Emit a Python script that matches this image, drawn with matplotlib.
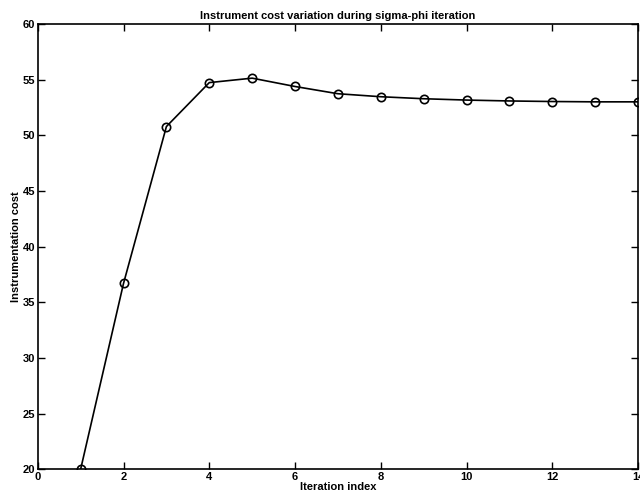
import matplotlib
matplotlib.use("Agg")
import matplotlib.pyplot as plt

# iteration index vs instrumentation cost
iterations = [1, 2, 3, 4, 5, 6, 7, 8, 9, 10, 11, 12, 13, 14]
cost = [20.0, 36.7, 50.8, 54.75, 55.15, 54.4, 53.75, 53.48, 53.3, 53.18,
        53.1, 53.05, 53.02, 53.02]

xticks = [0, 2, 4, 6, 8, 10, 12, 14]
yticks = [20, 25, 30, 35, 40, 45, 50, 55, 60]

plt.rcParams['font.family'] = ['Liberation Sans', 'DejaVu Sans']

fig = plt.figure(figsize=(6.4, 5.04), dpi=100)
ax = fig.add_axes([0.059, 0.069, 0.938, 0.883])

ax.plot(iterations, cost, color='black', linewidth=1.2, marker='o',
        markersize=6, markerfacecolor='none', markeredgecolor='black',
        markeredgewidth=1.2)

ax.set_xlim(0, 14)
ax.set_ylim(20, 60)
ax.set_xticks(xticks)
ax.set_yticks(yticks)
ax.tick_params(direction='in', top=True, right=True, length=5, width=1,
               labelsize=8, pad=2)
for lbl in ax.get_xticklabels() + ax.get_yticklabels():
    lbl.set_fontweight('bold')
for s in ax.spines.values():
    s.set_linewidth(1.2)

ax.set_title('Instrument cost variation during sigma-phi iteration',
             fontsize=8, fontweight='bold', pad=4)
ax.set_xlabel('Iteration index', fontsize=8, fontweight='bold', labelpad=0)
ax.set_ylabel('Instrumentation cost', fontsize=8, fontweight='bold', labelpad=1)

fig.savefig('out.png', dpi=100)
